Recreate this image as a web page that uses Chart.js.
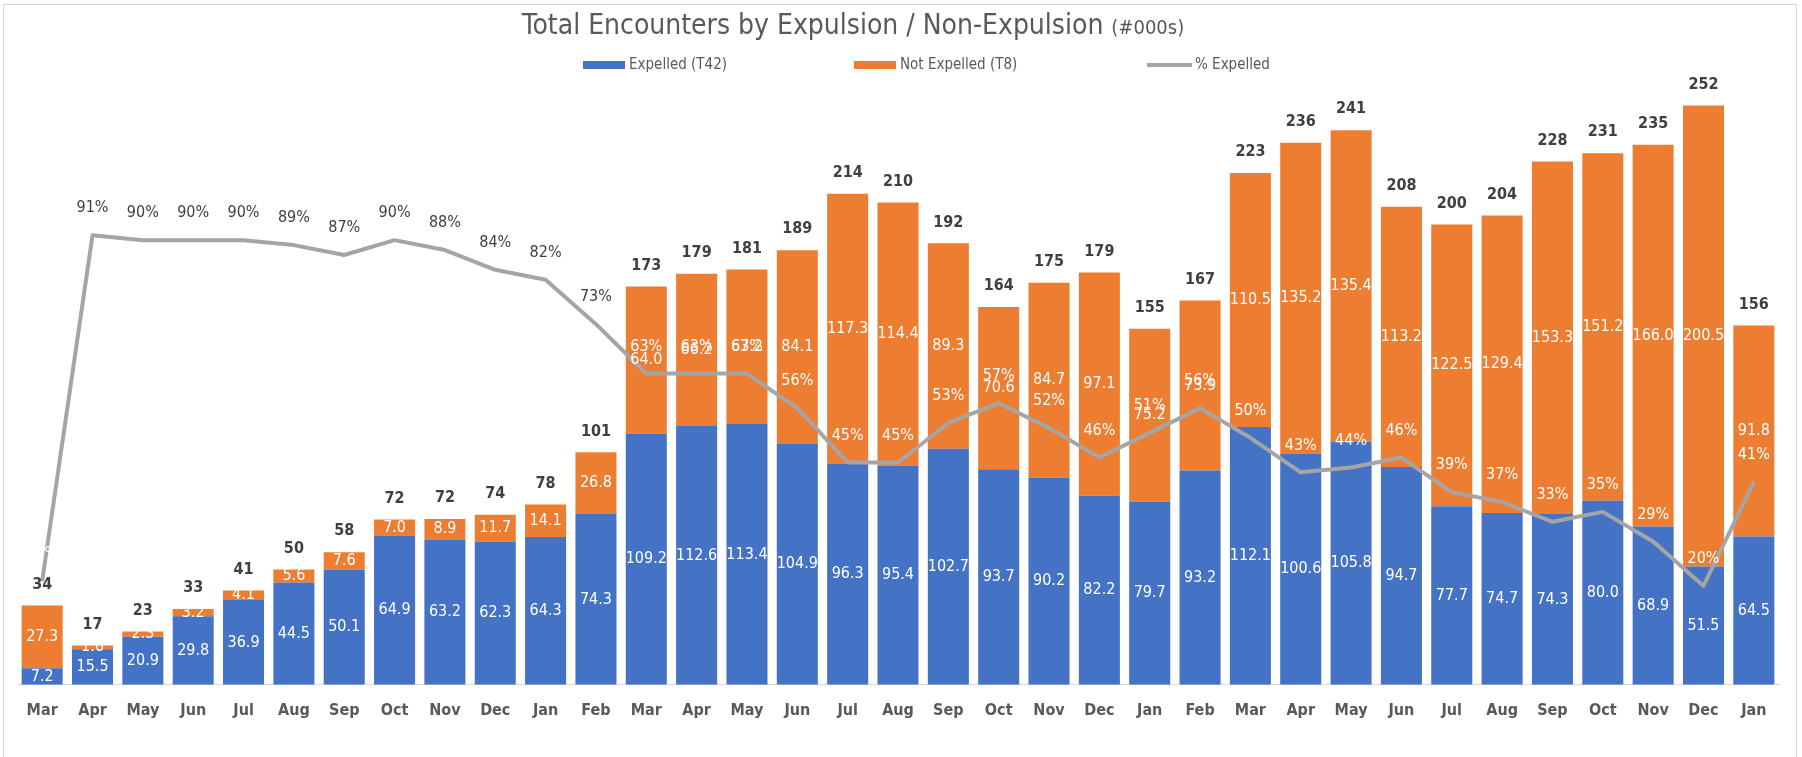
<!DOCTYPE html>
<html>
<head>
<meta charset="utf-8">
<script src="https://cdn.jsdelivr.net/npm/chart.js@4.4.1/dist/chart.umd.min.js"></script>
<style>
  html, body { margin: 0; padding: 0; background: #fff; }
  #frame { position: absolute; left: 3px; top: 4px; width: 1794px; height: 780px; border: 1px solid #d9d9d9; box-sizing: border-box; }
  canvas { position: absolute; left: 0; top: 0; }
</style>
</head>
<body>
<div id="frame"></div>
<canvas id="encChart" width="1802" height="757"></canvas>
<script>
const months = ["Mar","Apr","May","Jun","Jul","Aug","Sep","Oct","Nov","Dec","Jan","Feb",
                "Mar","Apr","May","Jun","Jul","Aug","Sep","Oct","Nov","Dec","Jan","Feb",
                "Mar","Apr","May","Jun","Jul","Aug","Sep","Oct","Nov","Dec","Jan"];

const expelled = [7.2, 15.5, 20.9, 29.8, 36.9, 44.5, 50.1, 64.9, 63.2, 62.3, 64.3, 74.3,
                  109.2, 112.6, 113.4, 104.9, 96.3, 95.4, 102.7, 93.7, 90.2, 82.2, 79.7, 93.2,
                  112.1, 100.6, 105.8, 94.7, 77.7, 74.7, 74.3, 80.0, 68.9, 51.5, 64.5];

const notExpelled = [27.3, 1.6, 2.3, 3.2, 4.1, 5.6, 7.6, 7.0, 8.9, 11.7, 14.1, 26.8,
                     64.0, 66.2, 67.2, 84.1, 117.3, 114.4, 89.3, 70.6, 84.7, 97.1, 75.2, 73.9,
                     110.5, 135.2, 135.4, 113.2, 122.5, 129.4, 153.3, 151.2, 166.0, 200.5, 91.8];

const totals = [34, 17, 23, 33, 41, 50, 58, 72, 72, 74, 78, 101,
                173, 179, 181, 189, 214, 210, 192, 164, 175, 179, 155, 167,
                223, 236, 241, 208, 200, 204, 228, 231, 235, 252, 156];

const pctExpelled = [21, 91, 90, 90, 90, 89, 87, 90, 88, 84, 82, 73,
                     63, 63, 63, 56, 45, 45, 53, 57, 52, 46, 51, 56,
                     50, 43, 44, 46, 39, 37, 33, 35, 29, 20, 41];

const titleMain = "Total Encounters by Expulsion / Non-Expulsion";
const titleSub = "(#000s)";

const FONT = '"Liberation Sans Narrow", "DejaVu Sans Condensed", Roboto, sans-serif';
const BLUE = "#4472c4", ORANGE = "#ed7d31", GREY = "#a5a5a5", TEXT = "#595959", DARK = "#404040";

// value labels, totals and % labels
const labelPlugin = {
    id: "barLabels",
    afterDatasetsDraw(chart) {
        const ctx = chart.ctx;
        ctx.save();
        ctx.textAlign = "center";
        ctx.textBaseline = "middle";

        ctx.font = "16px " + FONT;
        ctx.fillStyle = "#ffffff";
        [0, 1].forEach(di => {
            chart.getDatasetMeta(di).data.forEach((bar, i) => {
                const v = chart.data.datasets[di].data[i];
                ctx.fillText(v.toFixed(1), bar.x, (bar.y + bar.base) / 2);
            });
        });

        ctx.font = "bold 16px " + FONT;
        ctx.fillStyle = DARK;
        chart.getDatasetMeta(1).data.forEach((bar, i) => {
            ctx.fillText(totals[i], bar.x, bar.y - 21);
        });

        ctx.font = "16px " + FONT;
        chart.getDatasetMeta(2).data.forEach((pt, i) => {
            ctx.fillStyle = (i >= 1 && i <= 11) ? DARK : "#ffffff";
            ctx.fillText(pctExpelled[i] + "%", pt.x, pt.y - 27);
        });
        ctx.restore();
    }
};

// title + legend row
const headerPlugin = {
    id: "header",
    afterDraw(chart) {
        const ctx = chart.ctx;
        ctx.save();
        ctx.textBaseline = "middle";
        ctx.textAlign = "left";
        ctx.fillStyle = TEXT;

        const mainFont = "28px " + FONT, subFont = "20px " + FONT;
        ctx.font = mainFont;
        const w1 = ctx.measureText(titleMain + " ").width;
        ctx.font = subFont;
        const w2 = ctx.measureText(titleSub).width;
        const x = 853 - (w1 + w2) / 2;
        ctx.font = mainFont;
        ctx.fillText(titleMain + " ", x, 27);
        ctx.font = subFont;
        ctx.fillText(titleSub, x + w1, 29);

        const starts = [583, 854, 1147];
        const y = 65;
        ctx.font = "15px " + FONT;
        chart.data.datasets.forEach((ds, i) => {
            const x0 = starts[i];
            let tx;
            if (ds.type === "line") {
                ctx.strokeStyle = ds.borderColor;
                ctx.lineWidth = 4;
                ctx.beginPath();
                ctx.moveTo(x0, y);
                ctx.lineTo(x0 + 45, y);
                ctx.stroke();
                tx = x0 + 48;
            } else {
                ctx.fillStyle = ds.backgroundColor;
                ctx.fillRect(x0, y - 4, 42, 8);
                tx = x0 + 46;
            }
            ctx.fillStyle = TEXT;
            ctx.fillText(ds.label, tx, y);
        });
        ctx.restore();
    }
};

const ctx = document.getElementById("encChart").getContext("2d");
new Chart(ctx, {
    data: {
        labels: months,
        datasets: [
            {
                type: "bar",
                label: "Expelled (T42)",
                data: expelled,
                backgroundColor: BLUE,
                yAxisID: "y",
                order: 1
            },
            {
                type: "bar",
                label: "Not Expelled (T8)",
                data: notExpelled,
                backgroundColor: ORANGE,
                yAxisID: "y",
                order: 1
            },
            {
                type: "line",
                label: "% Expelled",
                data: pctExpelled,
                borderColor: GREY,
                borderWidth: 4,
                pointRadius: 0,
                tension: 0,
                borderJoinStyle: "round",
                yAxisID: "y1",
                order: 0
            }
        ]
    },
    options: {
        responsive: false,
        devicePixelRatio: 1,
        animation: false,
        datasets: {
            bar: { categoryPercentage: 1, barPercentage: 0.815 }
        },
        layout: {
            padding: { left: 17, right: 23, top: 87, bottom: 21 }
        },
        plugins: {
            legend: { display: false },
            title: { display: false },
            tooltip: { enabled: false }
        },
        scales: {
            x: {
                stacked: true,
                grid: { display: false, drawTicks: false },
                border: { display: true, color: "#d9d9d9", width: 1 },
                ticks: {
                    padding: 16,
                    color: TEXT,
                    font: { family: FONT, size: 16, weight: "bold" },
                    maxRotation: 0,
                    autoSkip: false
                }
            },
            y: {
                stacked: true,
                display: false,
                min: 0,
                max: 260
            },
            y1: {
                display: false,
                position: "right",
                min: 0,
                max: 121
            }
        }
    },
    plugins: [labelPlugin, headerPlugin]
});
</script>
</body>
</html>
